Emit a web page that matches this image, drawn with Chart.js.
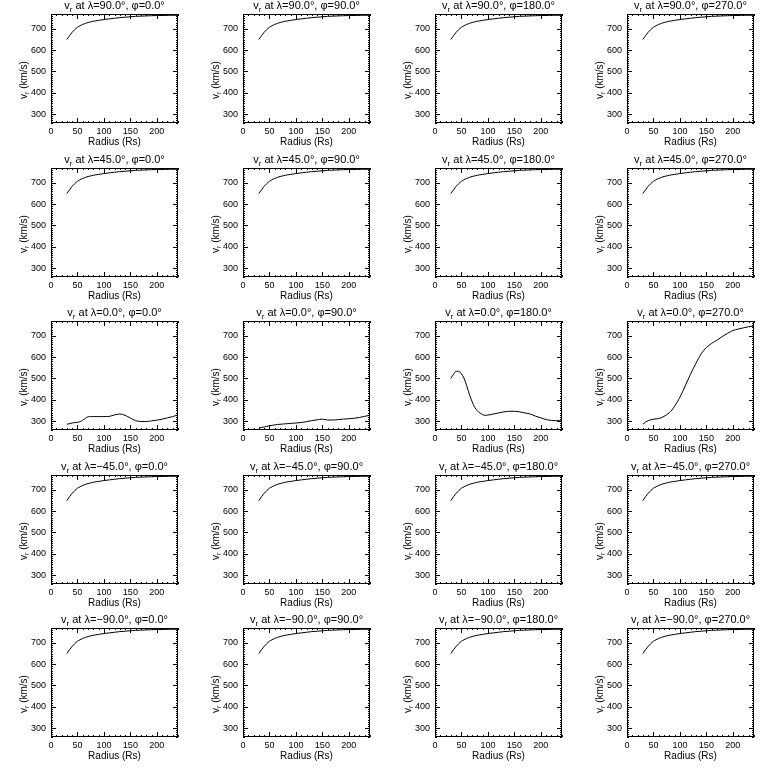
<!DOCTYPE html>
<html>
<head>
<meta charset="utf-8">
<script src="https://cdn.jsdelivr.net/npm/chart.js@4.4.1/dist/chart.umd.min.js"></script>
<style>
  body { margin: 0; background: #fff; }
  #grid { position: relative; width: 768px; height: 768px; }
  #grid canvas { position: absolute; }
</style>
</head>
<body>
<div id="grid"></div>
<script>
// radius samples (Rs)
const radius = [30, 35, 40, 45, 50, 55, 60, 65, 70, 75, 80, 85, 90, 95, 100,
  110, 120, 130, 140, 150, 160, 170, 180, 190, 200, 210, 220, 230, 240];

// fast wind, off the equator (all lat != 0 panels)
const vFast = [650, 668, 684, 697, 708, 715, 721, 726, 730, 733, 736, 738, 740, 742, 744,
  747, 750, 753, 755, 757, 759, 760, 761, 762, 763, 763, 764, 764, 764];

// equator, phi = 0, 90, 180, 270
const vEq0 = [285, 288, 291, 293, 294, 297, 304, 313, 320, 321, 321, 321, 321, 321, 321,
  322, 329, 333, 327, 314, 302, 298, 298, 301, 304, 309, 315, 321, 329];
const vEq90 = [268, 270, 272, 275, 278, 280, 282, 284, 285, 286, 287, 288, 289, 290, 291,
  293, 297, 302, 306, 309, 305, 305, 307, 309, 311, 313, 317, 322, 328];
const vEq180 = [500, 520, 534, 533, 522, 500, 465, 425, 392, 365, 348, 338, 330, 327, 328,
  333, 338, 343, 346, 346, 343, 338, 333, 323, 315, 307, 303, 302, 301];
const vEq270 = [285, 295, 302, 306, 309, 310, 312, 316, 322, 330, 340, 352, 370, 390, 412,
  465, 520, 570, 615, 645, 665, 680, 697, 712, 725, 732, 738, 743, 747];

const lats = ['90.0', '45.0', '0.0', '\u221245.0', '\u221290.0'];
const lons = ['0.0', '90.0', '180.0', '270.0'];
const xTicks = [0, 50, 100, 150, 200];
const yTicks = [300, 400, 500, 600, 700];
const xRange = [0, 240];
const yRange = [258, 770];

const FONT = '"Liberation Sans", Arial, sans-serif';

// draw "v" with subscript r, then the rest
function drawVr(ctx, cx, cy, rest, size) {
  ctx.font = size + 'px ' + FONT;
  const wv = ctx.measureText('v').width;
  const wr0 = ctx.measureText(rest).width;
  ctx.font = Math.round(size * 0.7) + 'px ' + FONT;
  const ws = ctx.measureText('r').width;
  const total = wv + ws + wr0;
  let x = cx - total / 2;
  ctx.textAlign = 'left';
  ctx.textBaseline = 'middle';
  ctx.font = size + 'px ' + FONT;
  ctx.fillText('v', x, cy);
  x += wv;
  ctx.font = Math.round(size * 0.7) + 'px ' + FONT;
  ctx.fillText('r', x, cy + size * 0.3);
  x += ws;
  ctx.font = size + 'px ' + FONT;
  ctx.fillText(rest, x, cy);
}

// IDL style box: frame, inward ticks on all four sides, titles
const idlBox = {
  id: 'idlBox',
  afterDraw(chart, args, opts) {
    const { ctx, chartArea: a, scales: { x, y } } = chart;
    ctx.save();
    ctx.strokeStyle = '#000';
    ctx.lineWidth = 1;
    ctx.strokeRect(a.left + 0.5, a.top + 0.5, a.right - a.left - 1, a.bottom - a.top - 1);
    ctx.beginPath();
    for (let v = xRange[0]; v <= xRange[1]; v += 10) {
      const px = Math.round(x.getPixelForValue(v)) + 0.5;
      const len = v % 50 === 0 ? 5 : 2;
      ctx.moveTo(px, a.bottom); ctx.lineTo(px, a.bottom - len);
      ctx.moveTo(px, a.top); ctx.lineTo(px, a.top + len);
    }
    for (let v = Math.ceil(yRange[0] / 10) * 10; v <= yRange[1]; v += 10) {
      const py = Math.round(y.getPixelForValue(v)) + 0.5;
      const len = v % 100 === 0 ? 5 : 2;
      ctx.moveTo(a.left, py); ctx.lineTo(a.left + len, py);
      ctx.moveTo(a.right, py); ctx.lineTo(a.right - len, py);
    }
    ctx.stroke();

    ctx.fillStyle = '#000';
    const cx = (a.left + a.right) / 2;
    drawVr(ctx, cx, 6, ' at \u03bb=' + opts.lat + '\u00b0, \u03c6=' + opts.lon + '\u00b0', 11);

    ctx.font = '10px ' + FONT;
    ctx.textAlign = 'center';
    ctx.textBaseline = 'middle';
    ctx.fillText('Radius (Rs)', cx, 142);

    ctx.translate(24, 80);
    ctx.rotate(-Math.PI / 2);
    drawVr(ctx, 0, 0, ' (km/s)', 10);
    ctx.restore();
  }
};

const grid = document.getElementById('grid');
const eqSeries = [vEq0, vEq90, vEq180, vEq270];

lats.forEach((lat, r) => {
  lons.forEach((lon, c) => {
    const cv = document.createElement('canvas');
    cv.width = 192; cv.height = 154;
    cv.style.left = (c * 192) + 'px';
    cv.style.top = Math.round(r * 153.6) + 'px';
    cv.style.width = '192px'; cv.style.height = '154px';
    grid.appendChild(cv);

    const vals = lat === '0.0' ? eqSeries[c] : vFast;

    new Chart(cv, {
      type: 'line',
      data: {
        datasets: [{
          data: radius.map((rr, i) => ({ x: rr, y: vals[i] })),
          borderColor: '#000',
          borderWidth: 1,
          pointRadius: 0,
          cubicInterpolationMode: 'monotone'
        }]
      },
      options: {
        responsive: false,
        animation: false,
        devicePixelRatio: 1,
        layout: { padding: { top: 14, right: 14, left: 0, bottom: 0 } },
        plugins: {
          legend: { display: false },
          tooltip: { enabled: false },
          idlBox: { lat: lat, lon: lon }
        },
        scales: {
          x: {
            type: 'linear', min: xRange[0], max: xRange[1],
            grid: { display: false, drawTicks: false }, border: { display: false },
            afterBuildTicks: s => { s.ticks = xTicks.map(v => ({ value: v })); },
            afterFit: s => { s.height = 31; },
            ticks: { color: '#000', font: { family: FONT, size: 9 }, padding: 3, maxRotation: 0 }
          },
          y: {
            type: 'linear', min: yRange[0], max: yRange[1],
            grid: { display: false, drawTicks: false }, border: { display: false },
            afterBuildTicks: s => { s.ticks = yTicks.map(v => ({ value: v })); },
            afterFit: s => { s.width = 51; },
            ticks: { color: '#000', font: { family: FONT, size: 9 }, padding: 5 }
          }
        }
      },
      plugins: [idlBox]
    });
  });
});
</script>
</body>
</html>
